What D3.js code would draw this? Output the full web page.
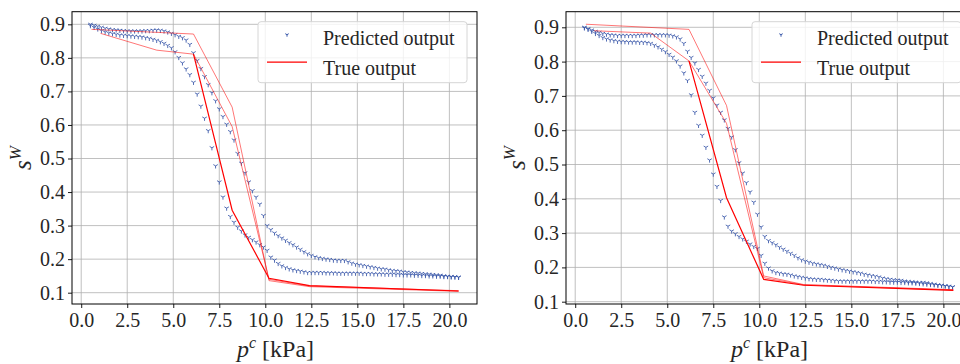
<!DOCTYPE html>
<html>
<head>
<meta charset="utf-8">
<script src="https://cdn.jsdelivr.net/npm/d3@7"></script>
<style>
  body { margin: 0; background: #fff; }
  svg { display: block; }
</style>
</head>
<body>
<svg id="chart" width="960" height="364" font-family="'Liberation Serif', 'DejaVu Serif', serif"></svg>
<script>
// load steps of the pressure path [kPa]
const pressure = [
  0.5,0.7,0.9,1.1,1.3,1.5,1.7,1.9,2.1,2.3,
  2.5,2.7,2.9,3.1,3.3,3.5,3.7,3.9,4.1,4.3,
  4.5,4.7,4.9,5.1,5.3,5.5,5.7,5.9,6.1,6.3,
  6.5,6.7,6.9,7.1,7.3,7.5,7.7,7.9,8.1,8.3,
  8.5,8.7,8.9,9.1,9.3,9.5,9.7,9.9,10.1,10.3,
  10.5,10.7,10.9,11.1,11.3,11.5,11.7,11.9,12.1,12.3,
  12.5,12.7,12.9,13.1,13.3,13.5,13.7,13.9,14.1,14.3,
  14.5,14.7,14.9,15.1,15.3,15.5,15.7,15.9,16.1,16.3,
  16.5,16.7,16.9,17.1,17.3,17.5,17.7,17.9,18.1,18.3,
  18.5,18.7,18.9,19.1,19.3,19.5,19.7,19.9,20.1,20.3,
  20.5
];

// predicted s^W, left plot (drying branch, wetting branch)
const leftPredDry = [
  0.900,0.897,0.894,0.891,0.888,0.886,0.884,0.883,0.882,0.881,
  0.880,0.880,0.880,0.880,0.880,0.881,0.881,0.882,0.883,0.882,
  0.880,0.877,0.873,0.869,0.864,0.860,0.853,0.840,0.815,0.792,
  0.768,0.744,0.720,0.696,0.672,0.648,0.625,0.602,0.580,0.555,
  0.515,0.486,0.457,0.430,0.404,0.385,0.364,0.330,0.300,0.288,
  0.278,0.270,0.263,0.256,0.249,0.243,0.236,0.229,0.222,0.216,
  0.211,0.207,0.204,0.202,0.200,0.199,0.197,0.196,0.196,0.196,
  0.192,0.188,0.185,0.183,0.181,0.179,0.177,0.175,0.173,0.171,
  0.170,0.168,0.166,0.165,0.164,0.162,0.161,0.160,0.159,0.158,
  0.157,0.156,0.155,0.154,0.153,0.152,0.150,0.149,0.148,0.147,
  0.146
];
const leftPredWet = [
  0.896,0.891,0.886,0.881,0.877,0.874,0.872,0.870,0.868,0.867,
  0.866,0.865,0.864,0.863,0.862,0.860,0.858,0.855,0.852,0.848,
  0.843,0.837,0.830,0.818,0.801,0.785,0.767,0.750,0.727,0.692,
  0.656,0.620,0.583,0.532,0.478,0.430,0.385,0.352,0.327,0.310,
  0.295,0.284,0.272,0.265,0.258,0.251,0.243,0.236,0.226,0.206,
  0.197,0.187,0.180,0.175,0.171,0.168,0.166,0.164,0.162,0.160,
  0.160,0.160,0.160,0.160,0.159,0.159,0.159,0.158,0.158,0.158,
  0.158,0.158,0.158,0.158,0.157,0.157,0.157,0.156,0.156,0.156,
  0.155,0.155,0.155,0.154,0.154,0.153,0.153,0.153,0.152,0.152,
  0.151,0.151,0.150,0.150,0.149,0.149,0.148,0.148,0.147,0.147,
  0.146
];

// predicted s^W, right plot
const rightPredDry = [
  0.900,0.896,0.892,0.888,0.885,0.882,0.880,0.878,0.877,0.876,
  0.876,0.876,0.876,0.876,0.876,0.877,0.877,0.878,0.878,0.878,
  0.878,0.878,0.878,0.877,0.875,0.872,0.866,0.853,0.830,0.812,
  0.796,0.777,0.757,0.737,0.716,0.694,0.673,0.652,0.630,0.605,
  0.580,0.543,0.505,0.475,0.447,0.420,0.390,0.355,0.318,0.290,
  0.278,0.272,0.266,0.259,0.253,0.247,0.241,0.235,0.228,0.222,
  0.218,0.215,0.212,0.210,0.208,0.206,0.203,0.200,0.198,0.195,
  0.193,0.191,0.189,0.187,0.185,0.183,0.180,0.178,0.176,0.174,
  0.172,0.169,0.167,0.165,0.164,0.163,0.162,0.160,0.159,0.158,
  0.157,0.156,0.156,0.155,0.153,0.151,0.149,0.148,0.146,0.145,
  0.143
];
const rightPredWet = [
  0.898,0.894,0.888,0.882,0.876,0.870,0.866,0.863,0.861,0.859,
  0.858,0.858,0.857,0.857,0.857,0.856,0.856,0.855,0.853,0.848,
  0.843,0.836,0.829,0.821,0.813,0.802,0.787,0.767,0.745,0.703,
  0.652,0.614,0.585,0.550,0.513,0.472,0.436,0.395,0.347,0.320,
  0.306,0.298,0.290,0.283,0.276,0.268,0.261,0.255,0.235,0.212,
  0.198,0.190,0.185,0.183,0.181,0.180,0.178,0.175,0.173,0.171,
  0.169,0.167,0.166,0.165,0.165,0.164,0.163,0.162,0.161,0.160,
  0.160,0.160,0.160,0.160,0.160,0.160,0.160,0.160,0.160,0.159,
  0.159,0.158,0.158,0.157,0.157,0.157,0.156,0.156,0.155,0.155,
  0.154,0.153,0.152,0.151,0.150,0.149,0.148,0.147,0.146,0.144,
  0.143
];

// true output, sampled at few load steps (one array pair per pass)
const leftTrueDry1P = [0.56, 6.1, 8.2, 10.2, 12.4, 20.5];
const leftTrueDry1S = [0.885, 0.871, 0.653, 0.136, 0.118, 0.104];
const leftTrueWetP  = [20.5, 12.4, 10.2, 8.2, 6.1];
const leftTrueWetS  = [0.105, 0.121, 0.143, 0.346, 0.811];
const leftTrueDry2P = [1.05, 4.1, 6.1, 8.2, 10.2, 12.4, 20.5];
const leftTrueDry2S = [0.873, 0.823, 0.811, 0.595, 0.140, 0.120, 0.106];

const rightTrueDry1P = [0.58, 6.18, 8.22, 10.24, 12.41, 20.54];
const rightTrueDry1S = [0.909, 0.894, 0.672, 0.175, 0.150, 0.135];
const rightTrueWetP  = [20.54, 12.41, 10.24, 8.22, 6.18];
const rightTrueWetS  = [0.133, 0.148, 0.165, 0.403, 0.802];
const rightTrueDry2P = [1.03, 4.1, 6.18, 8.22, 10.24, 12.41, 20.54];
const rightTrueDry2S = [0.890, 0.883, 0.802, 0.620, 0.170, 0.149, 0.134];

const xTicks = [0, 2.5, 5, 7.5, 10, 12.5, 15, 17.5, 20];
const yTicks = [0.1, 0.2, 0.3, 0.4, 0.5, 0.6, 0.7, 0.8, 0.9];
const legendLabels = ['Predicted output', 'True output'];

const svg = d3.select('#chart');
const serif = "'Liberation Serif', 'DejaVu Serif', serif";
const plotTop = 11.7, plotBottom = 304, plotWidth = 405;
const blue = '#3655a8';
const textColor = '#262626';

// tri_down marker ("1" in matplotlib)
function tri(r) {
  const a = r * 0.866, b = r * 0.5;
  return `M0,0L0,${r}M0,0L${-a},${-b}M0,0L${a},${-b}`;
}

const panels = [
  { left: 72, yDomain: [0.0663, 0.9376], dry: leftPredDry, wet: leftPredWet,
    truth: [[leftTrueDry1P, leftTrueDry1S], [leftTrueDry2P, leftTrueDry2S], [leftTrueWetP, leftTrueWetS]] },
  { left: 566, yDomain: [0.0933, 0.9455], dry: rightPredDry, wet: rightPredWet,
    truth: [[rightTrueDry1P, rightTrueDry1S], [rightTrueDry2P, rightTrueDry2S], [rightTrueWetP, rightTrueWetS]] }
];

panels.forEach((pn, k) => {
  const x = d3.scaleLinear().domain([-0.5, 21.5]).range([pn.left, pn.left + plotWidth]);
  const y = d3.scaleLinear().domain(pn.yDomain).range([plotBottom, plotTop]);
  const g = svg.append('g');

  const clipId = 'clip' + k;
  g.append('clipPath').attr('id', clipId)
    .append('rect').attr('x', pn.left).attr('y', plotTop).attr('width', plotWidth).attr('height', plotBottom - plotTop);

  // grid
  const grid = g.append('g').attr('stroke', '#b0b0b0').attr('stroke-width', 0.8);
  grid.selectAll('.gx').data(xTicks).enter().append('line')
    .attr('x1', d => x(d)).attr('x2', d => x(d)).attr('y1', plotTop).attr('y2', plotBottom);
  grid.selectAll('.gy').data(yTicks).enter().append('line')
    .attr('y1', d => y(d)).attr('y2', d => y(d)).attr('x1', pn.left).attr('x2', pn.left + plotWidth);

  const plot = g.append('g').attr('clip-path', `url(#${clipId})`);

  // predicted markers
  [pn.dry, pn.wet].forEach(series => {
    plot.append('g').selectAll('path').data(series).enter().append('path')
      .attr('transform', (d, i) => `translate(${x(pressure[i])},${y(d)})`)
      .attr('d', tri(2.6))
      .attr('fill', 'none').attr('stroke', blue).attr('stroke-width', 1).attr('opacity', 0.85);
  });

  // true output lines
  const line = d3.line().x(d => x(d[0])).y(d => y(d[1]));
  pn.truth.forEach((pass, j) => {
    const pts = pass[0].map((p, i) => [p, pass[1][i]]);
    plot.append('path').attr('d', line(pts))
      .attr('fill', 'none').attr('stroke', '#ff0000')
      .attr('stroke-width', j === 2 ? 1.2 : 0.9)
      .attr('opacity', j === 2 ? 1 : 0.6);
  });

  // axes
  const xAxis = g.append('g').attr('transform', `translate(0,${plotBottom})`)
    .call(d3.axisBottom(x).tickValues(xTicks).tickFormat(d3.format('.1f')).tickSize(4).tickPadding(5));
  const yAxis = g.append('g').attr('transform', `translate(${pn.left},0)`)
    .call(d3.axisLeft(y).tickValues(yTicks).tickFormat(d3.format('.1f')).tickSize(4).tickPadding(3));
  [xAxis, yAxis].forEach(a => {
    a.attr('font-family', serif).attr('font-size', 20);
    a.select('.domain').remove();
    a.selectAll('line').attr('stroke', '#000').attr('stroke-width', 0.9);
    a.selectAll('text').attr('fill', textColor);
  });

  g.append('rect').attr('x', pn.left).attr('y', plotTop).attr('width', plotWidth).attr('height', plotBottom - plotTop)
    .attr('fill', 'none').attr('stroke', '#000').attr('stroke-width', 1);

  // axis labels
  const xl = g.append('text').attr('x', pn.left + plotWidth / 2 + 1).attr('y', 357)
    .attr('text-anchor', 'middle').attr('font-size', 24).attr('fill', textColor);
  xl.append('tspan').attr('font-style', 'italic').text('p');
  xl.append('tspan').attr('font-style', 'italic').attr('font-size', 16).attr('dy', -9).text('c');
  xl.append('tspan').attr('dy', 9).text(' [kPa]');

  const yl = g.append('text').attr('transform', `translate(${pn.left - 41},158) rotate(-90)`)
    .attr('text-anchor', 'middle').attr('font-size', 25).attr('fill', textColor);
  yl.append('tspan').attr('font-style', 'italic').text('s');
  yl.append('tspan').attr('font-style', 'italic').attr('font-size', 17).attr('dy', -10).text('W');

  // legend
  const lx = pn.left + 186, ly = 21.7;
  const leg = g.append('g');
  leg.append('rect').attr('x', lx).attr('y', ly).attr('width', 209).attr('height', 61).attr('rx', 3)
    .attr('fill', '#fff').attr('fill-opacity', 0.8).attr('stroke', '#d6d6d6').attr('stroke-width', 1);
  leg.append('path').attr('transform', `translate(${lx + 29},${ly + 13})`).attr('d', tri(2))
    .attr('fill', 'none').attr('stroke', blue).attr('stroke-width', 1);
  leg.append('line').attr('x1', lx + 9).attr('x2', lx + 49).attr('y1', ly + 40.5).attr('y2', ly + 40.5)
    .attr('stroke', '#ff0000').attr('stroke-width', 1.3);
  leg.selectAll('.lt').data(legendLabels).enter().append('text')
    .attr('x', lx + 65).attr('y', (d, i) => ly + 23.5 + i * 30)
    .attr('font-size', 20).attr('fill', textColor).text(d => d);
});
</script>
</body>
</html>
